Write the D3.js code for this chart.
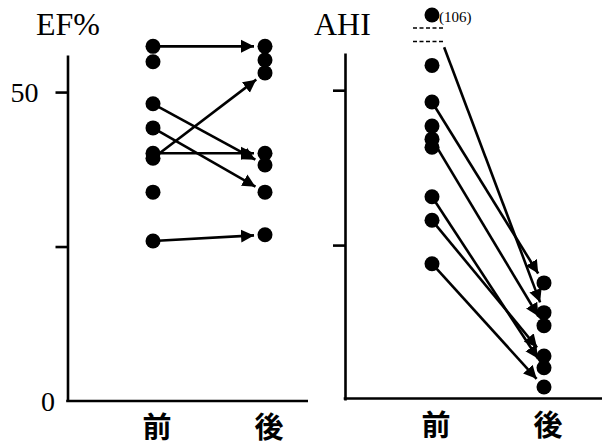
<!DOCTYPE html>
<html>
<head>
<meta charset="utf-8">
<script src="https://cdn.jsdelivr.net/npm/d3@7/dist/d3.min.js"></script>
<style>
  html, body { margin: 0; padding: 0; background: #fff; }
  svg { display: block; }
</style>
</head>
<body>
<svg id="chart" width="602" height="446"></svg>
<script>
// ---------------- data ----------------
const categories = ["前", "後"];

// EF% panel
const efPre  = [57.4, 54.9, 48.1, 44.2, 40.1, 39.3, 33.8, 25.9];
const efPost = [57.4, 55.2, 53.1, 40.1, 38.2, 33.8, 26.9];
const efArrows = [[0, 0], [2, 4], [3, 5], [5, 2], [4, 3], [7, 6]]; // [preIndex, postIndex]
const efTickValues = [25, 50];
const efTickLabels = ["", "50"];
const efZeroLabel = "0";
const efTitle = "EF%";

// AHI panel
const ahiPre  = [106, 54.0, 48.1, 44.2, 42.1, 40.8, 32.8, 29.0, 22.0];
const ahiPost = [18.9, 14.1, 12.0, 7.1, 5.2, 2.1];
const ahiArrows = [[0, 1], [2, 0], [4, 2], [6, 4], [7, 3], [8, 5]];
const ahiTickValues = [25, 50];
const ahiBreakValues = [58, 62];
const ahiBreakLineStart = 57;
const ahiOutlierLabel = "(106)";
const ahiTitle = "AHI";

// ---------------- layout ----------------
const svg = d3.select("#chart");
const serif = "'Liberation Serif', 'Times New Roman', serif";
const cjk = "'Noto Sans CJK JP', 'Noto Sans CJK SC', sans-serif";
const R = 7.5, SW = 2.6, SHORT = 11;

const defs = svg.append("defs");
defs.append("marker")
  .attr("id", "arrow")
  .attr("markerUnits", "userSpaceOnUse")
  .attr("markerWidth", 14).attr("markerHeight", 14)
  .attr("refX", 13).attr("refY", 7)
  .attr("orient", "auto")
  .append("path")
  .attr("d", "M0,0.5 L13,7 L0,13.5 Z")
  .attr("fill", "#000");

function arrowLine(g, x1, y1, x2, y2, startT) {
  const dx = x2 - x1, dy = y2 - y1, L = Math.hypot(dx, dy);
  const t0 = startT || 0;
  const sx = x1 + dx * t0, sy = y1 + dy * t0;
  const ex = x2 - dx / L * SHORT, ey = y2 - dy / L * SHORT;
  g.append("line")
    .attr("x1", sx).attr("y1", sy).attr("x2", ex).attr("y2", ey)
    .attr("stroke", "#000").attr("stroke-width", SW)
    .attr("marker-end", "url(#arrow)");
}

function drawDots(g, xv, vals, y) {
  g.selectAll(null).data(vals).enter().append("circle")
    .attr("cx", xv).attr("cy", d => y(d)).attr("r", R).attr("fill", "#000");
}

function styleAxis(g) {
  g.selectAll("path.domain").attr("stroke", "#000").attr("stroke-width", SW);
  g.selectAll(".tick line").attr("stroke", "#000").attr("stroke-width", SW);
  g.selectAll(".tick text").attr("font-family", serif).attr("font-size", 28).attr("fill", "#000");
}

// ---------------- EF panel ----------------
{
  const axisX = 67.5, xEnd = 308;
  const x = d3.scalePoint().domain(categories).range([153, 265]);
  const y = d3.scaleLinear().domain([0, 56]).range([401, 55]);
  const g = svg.append("g");

  const ax = g.append("g").attr("transform", `translate(${axisX},0)`)
    .call(d3.axisLeft(y).tickValues(efTickValues).tickSize(12).tickSizeOuter(0).tickPadding(17)
      .tickFormat((d, i) => efTickLabels[i]));
  styleAxis(ax);

  g.append("line").attr("x1", axisX - SW / 2).attr("x2", xEnd)
    .attr("y1", y(0)).attr("y2", y(0)).attr("stroke", "#000").attr("stroke-width", SW);
  g.append("text").attr("x", axisX - 12.5).attr("y", y(0)).attr("dy", "0.36em")
    .attr("text-anchor", "end").attr("font-family", serif).attr("font-size", 28).text(efZeroLabel);

  g.append("text").attr("x", 36).attr("y", 35).attr("font-family", serif).attr("font-size", 32).text(efTitle);

  efArrows.forEach(([a, b]) => arrowLine(g, x("前"), y(efPre[a]), x("後"), y(efPost[b])));
  drawDots(g, x("前"), efPre, y);
  drawDots(g, x("後"), efPost, y);

  g.selectAll(null).data(categories).enter().append("text")
    .attr("x", d => x(d) + 4).attr("y", y(0) + 37)
    .attr("text-anchor", "middle").attr("font-family", cjk).attr("font-weight", "bold")
    .attr("font-size", 29).text(d => d);
}

// ---------------- AHI panel ----------------
{
  const axisX = 345, xEnd = 602;
  const x = d3.scalePoint().domain(categories).range([432, 544]);
  const yAxisScale = d3.scaleLinear().domain([0, 56]).range([400, 53]);
  const y = d3.scaleLinear().domain([0, 56, 58, 62, 106]).range([400, 53, 41.5, 28, 15]);
  const g = svg.append("g");

  const ax = g.append("g").attr("transform", `translate(${axisX},0)`)
    .call(d3.axisLeft(yAxisScale).tickValues(ahiTickValues).tickSize(12).tickSizeOuter(0).tickFormat(() => ""));
  styleAxis(ax);

  g.append("line").attr("x1", axisX - SW / 2).attr("x2", xEnd)
    .attr("y1", y(0) - 1.5).attr("y2", y(0) - 1.5).attr("stroke", "#000").attr("stroke-width", SW);

  g.append("text").attr("x", 314).attr("y", 35).attr("font-family", serif).attr("font-size", 32).text(ahiTitle);

  // break marks
  g.selectAll(null).data(ahiBreakValues).enter().append("line")
    .attr("x1", x("前") - 19).attr("x2", x("前") + 11)
    .attr("y1", d => y(d)).attr("y2", d => y(d))
    .attr("stroke", "#000").attr("stroke-width", 1.6).attr("stroke-dasharray", "4,2.5");

  ahiArrows.forEach(([a, b]) => {
    const y1 = y(ahiPre[a]), y2 = y(ahiPost[b]);
    let t0 = 0;
    if (ahiPre[a] > ahiBreakValues[1]) t0 = (y(ahiBreakLineStart) - y1) / (y2 - y1);
    arrowLine(g, x("前"), y1, x("後"), y2, t0);
  });
  drawDots(g, x("前"), ahiPre, y);
  drawDots(g, x("後"), ahiPost, y);

  g.append("text").attr("x", x("前") + 7).attr("y", y(ahiPre[0]) + 7)
    .attr("font-family", serif).attr("font-size", 15).text(ahiOutlierLabel);

  g.selectAll(null).data(categories).enter().append("text")
    .attr("x", d => x(d) + 4).attr("y", y(0) + 36)
    .attr("text-anchor", "middle").attr("font-family", cjk).attr("font-weight", "bold")
    .attr("font-size", 29).text(d => d);
}
</script>
</body>
</html>
